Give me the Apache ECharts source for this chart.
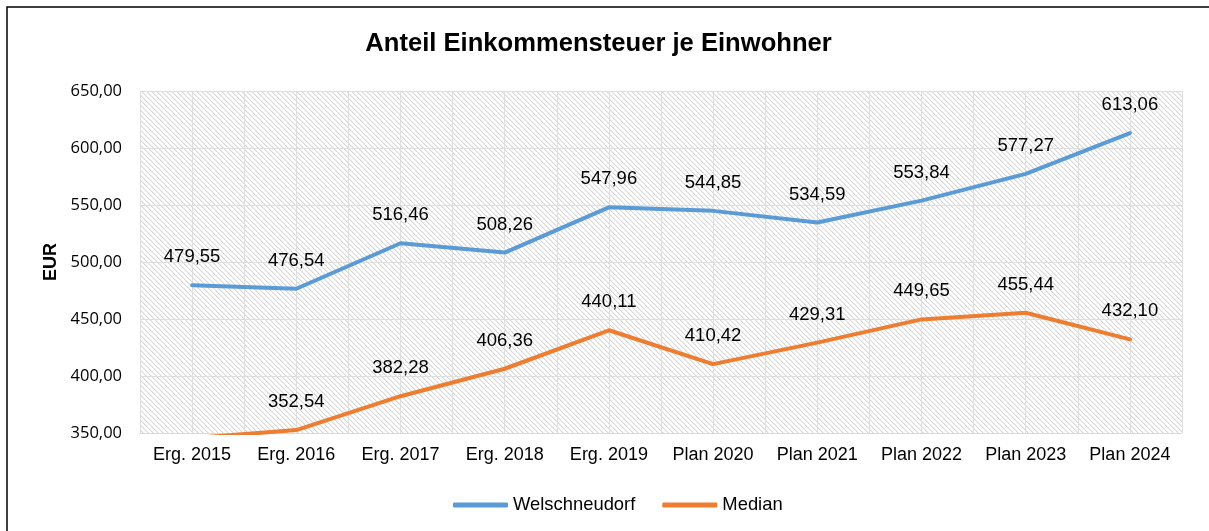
<!DOCTYPE html>
<html>
<head>
<meta charset="utf-8">
<script src="https://cdn.jsdelivr.net/npm/echarts@6/dist/echarts.min.js"></script>
<style>
html,body{margin:0;padding:0;background:#fff;}
#chart{width:1209px;height:531px;}
</style>
</head>
<body>
<div id="chart"></div>
<script>
var titleText = 'Anteil Einkommensteuer je Einwohner';
var yAxisTitle = 'EUR';
var categories = ['Erg. 2015','Erg. 2016','Erg. 2017','Erg. 2018','Erg. 2019','Plan 2020','Plan 2021','Plan 2022','Plan 2023','Plan 2024'];
var seriesNames = ['Welschneudorf','Median'];
var welschneudorf = [479.55,476.54,516.46,508.26,547.96,544.85,534.59,553.84,577.27,613.06];
var median = [345.5,352.54,382.28,406.36,440.11,410.42,429.31,449.65,455.44,432.10];
var yMin = 350, yMax = 650, yStep = 50;

function fmt(v){ return v.toFixed(2).replace('.', ','); }

// hatch pattern
var P = 5;
var pc = document.createElement('canvas');
pc.width = P; pc.height = P;
var pctx = pc.getContext('2d');
pctx.fillStyle = '#ffffff';
pctx.fillRect(0,0,P,P);
for (var i=0;i<P;i++){
  pctx.fillStyle = '#d8d8d8';
  pctx.fillRect(i,i,1,1);
  pctx.fillStyle = '#ededed';
  pctx.fillRect((i+1)%P,i,1,1);
}

function mkData(arr){
  return arr.map(function(v){
    if (v < yMin) return {value:v, label:{show:false}};
    return v;
  });
}

var labelFont = {fontFamily:'Liberation Sans', fontSize:18.5, color:'#000'};

var chart = echarts.init(document.getElementById('chart'), null, {renderer:'canvas'});
chart.setOption({
  animation:false,
  backgroundColor:'#fff',
  graphic:[
    {type:'rect', shape:{x:7, y:7, width:1300, height:600}, style:{fill:'none', stroke:'#000', lineWidth:1.5}, silent:true, z:-10},
    {type:'text', x:598.5, y:44, style:{text:titleText, font:'bold 25.6px "Liberation Sans"', fill:'#000', textAlign:'center', textVerticalAlign:'middle'}},
    {type:'text', x:51.5, y:262, rotation:Math.PI/2, style:{text:yAxisTitle, font:'bold 18px "Liberation Sans"', fill:'#000', textAlign:'center', textVerticalAlign:'middle'}}
  ],
  grid:{left:140, right:27, top:91, bottom:98, show:true, borderWidth:0,
        backgroundColor:{image:pc, repeat:'repeat'}},
  legend:{
    data:seriesNames, left:448, top:491, itemWidth:55, itemHeight:5, itemGap:27,
    icon:'roundRect',
    textStyle:{fontFamily:'Liberation Sans', fontSize:18.4, color:'#000', padding:[0,0,0,0]}
  },
  xAxis:[
    {type:'category', data:categories, boundaryGap:true,
     axisLine:{show:true, lineStyle:{color:'#d9d9d9', width:1}},
     axisTick:{show:false}, splitLine:{show:false},
     axisLabel:{interval:0, margin:13, fontFamily:'Liberation Sans', fontSize:18, color:'#000'}},
    {type:'value', min:0, max:20, interval:1, show:true, position:'bottom',
     axisLine:{show:false}, axisTick:{show:false}, axisLabel:{show:false},
     splitLine:{show:true, lineStyle:{color:'#dedede', width:1}}}
  ],
  yAxis:{type:'value', min:yMin, max:yMax, interval:yStep,
    axisLine:{show:false}, axisTick:{show:false},
    splitLine:{show:true, lineStyle:{color:'#dedede', width:1}},
    axisLabel:{margin:18, fontFamily:'Open Sans', fontSize:16.5, color:'#000', formatter:function(v){return fmt(v);}}},
  series:[
    {name:seriesNames[0], type:'line', data:mkData(welschneudorf), xAxisIndex:0,
     symbol:'circle', symbolSize:1, showSymbol:true, clip:true,
     lineStyle:{color:'#5B9BD5', width:4, cap:'round', join:'round'}, itemStyle:{color:'#5B9BD5'},
     label:Object.assign({show:true, position:'top', distance:18, formatter:function(p){return fmt(p.value);}}, labelFont)},
    {name:seriesNames[1], type:'line', data:mkData(median), xAxisIndex:0,
     symbol:'circle', symbolSize:1, showSymbol:true, clip:true,
     lineStyle:{color:'#ED7D31', width:4, cap:'round', join:'round'}, itemStyle:{color:'#ED7D31'},
     label:Object.assign({show:true, position:'top', distance:18, formatter:function(p){return fmt(p.value);}}, labelFont)}
  ]
});
</script>
</body>
</html>
